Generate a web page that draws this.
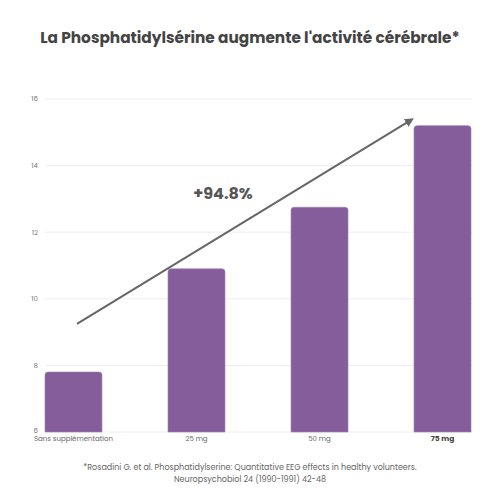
<!DOCTYPE html>
<html>
<head>
<meta charset="utf-8">
<script src="https://cdn.jsdelivr.net/npm/d3@7"></script>
<style>
  body { margin: 0; background: #fff; }
  #chart { width: 500px; height: 500px; }
  text { font-family: "Poppins", "Open Sans", "DejaVu Sans", sans-serif; }
</style>
</head>
<body>
<div id="chart"></div>
<script>
const categories = ["Sans supplémentation", "25 mg", "50 mg", "75 mg"];
const values = [7.8, 10.9, 12.75, 15.2];
const yTicks = [6, 8, 10, 12, 14, 16];
const highlight = "75 mg";
const gainLabel = "+94.8%";
// arrow start / end in data units
const arrowFrom = { cat: 0, value: 9.25 };
const arrowTo = { cat: 3, value: 15.35 };

const width = 500;
const height = 500;
const margin = { top: 99, right: 28, bottom: 68, left: 45 };

const svg = d3
  .select("#chart")
  .append("svg")
  .attr("width", width)
  .attr("height", height);

const x = d3
  .scaleBand()
  .domain(categories)
  .range([margin.left, width - margin.right - 1])
  .paddingInner(0.537)
  .paddingOuter(0);

const y = d3
  .scaleLinear()
  .domain([6, 16])
  .range([height - margin.bottom, margin.top]);

// title
const title = svg
  .append("text")
  .attr("x", width / 2)
  .attr("y", 43)
  .attr("text-anchor", "middle")
  .attr("font-size", 16)
  .attr("font-weight", "bold")
  .attr("fill", "#444")
  .text("La Phosphatidylsérine augmente l'activité cérébrale*");
const tw = title.node().getComputedTextLength();
title.attr("font-size", 16 * 420 / tw);

// gridlines
svg
  .append("g")
  .selectAll("line")
  .data(yTicks)
  .enter()
  .append("line")
  .attr("x1", margin.left)
  .attr("x2", width - margin.right)
  .attr("y1", (d) => y(d))
  .attr("y2", (d) => y(d))
  .attr("stroke", "#eeeeee")
  .attr("stroke-width", 1);

// y tick labels
svg
  .append("g")
  .selectAll("text")
  .data(yTicks)
  .enter()
  .append("text")
  .attr("x", 38)
  .attr("y", (d) => y(d))
  .attr("dy", (d) => (d === 6 ? "0.1em" : "0.35em"))
  .attr("text-anchor", "end")
  .attr("font-size", 7)
  .attr("fill", "#777")
  .text((d) => d);

// bars with rounded tops
const r = 3;
svg
  .append("g")
  .selectAll("path")
  .data(categories)
  .enter()
  .append("path")
  .attr("d", (d, i) => {
    const x0 = x(d);
    const x1 = x0 + x.bandwidth();
    const y0 = y(values[i]);
    const yb = y(6);
    return `M${x0},${yb}V${y0 + r}Q${x0},${y0} ${x0 + r},${y0}H${x1 - r}Q${x1},${y0} ${x1},${y0 + r}V${yb}Z`;
  })
  .attr("fill", "#855d9b")
  .attr("stroke", "#9c7cb0")
  .attr("stroke-width", 0.6);

// category labels
svg
  .append("g")
  .selectAll("text")
  .data(categories)
  .enter()
  .append("text")
  .attr("x", (d) => x(d) + x.bandwidth() / 2)
  .attr("y", y(6) + 9)
  .attr("text-anchor", "middle")
  .attr("font-size", (d) => (d === highlight ? 7.5 : 7))
  .attr("font-weight", (d) => (d === highlight ? "bold" : "normal"))
  .attr("fill", (d) => (d === highlight ? "#444" : "#666"))
  .text((d) => d);

// arrow
svg
  .append("defs")
  .append("marker")
  .attr("id", "arrowhead")
  .attr("viewBox", "0 0 10 10")
  .attr("refX", 5)
  .attr("refY", 5)
  .attr("markerWidth", 4.5)
  .attr("markerHeight", 4.5)
  .attr("orient", "auto")
  .append("path")
  .attr("d", "M0,0L10,5L0,10Z")
  .attr("fill", "#666");

const ax1 = x(categories[arrowFrom.cat]) + x.bandwidth() / 2 + 3.5;
const ax2 = x(categories[arrowTo.cat]) - 4;
svg
  .append("line")
  .attr("x1", ax1)
  .attr("y1", y(arrowFrom.value))
  .attr("x2", ax2)
  .attr("y2", y(arrowTo.value))
  .attr("stroke", "#666")
  .attr("stroke-width", 2)
  .attr("marker-end", "url(#arrowhead)");

// gain label
svg
  .append("text")
  .attr("x", 223)
  .attr("y", y(13.0))
  .attr("text-anchor", "middle")
  .attr("font-size", 16)
  .attr("font-weight", "bold")
  .attr("fill", "#555")
  .text(gainLabel);

// footnote
const foot = svg
  .append("text")
  .attr("text-anchor", "middle")
  .attr("font-size", 8)
  .attr("fill", "#666");
foot
  .append("tspan")
  .attr("x", width / 2)
  .attr("y", 470)
  .text("*Rosadini G. et al. Phosphatidylserine: Quantitative EEG effects in healthy volunteers.");
foot
  .append("tspan")
  .attr("x", width / 2)
  .attr("y", 482)
  .text("Neuropsychobiol 24 (1990-1991) 42-48");
</script>
</body>
</html>
